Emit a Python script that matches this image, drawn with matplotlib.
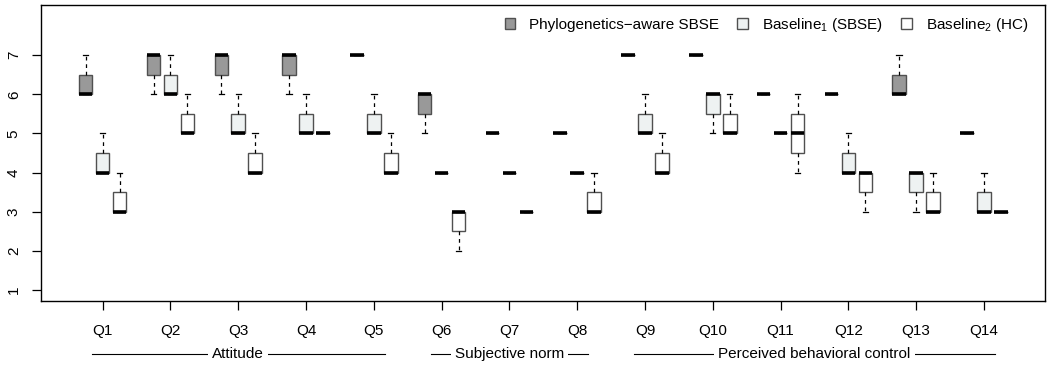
import numpy as np
import matplotlib
matplotlib.use("Agg")
import matplotlib.pyplot as plt
from matplotlib.patches import Patch

plt.rcParams['font.family'] = ['Liberation Sans', 'DejaVu Sans']
plt.rcParams['mathtext.default'] = 'regular'

questions = ['Q1', 'Q2', 'Q3', 'Q4', 'Q5', 'Q6', 'Q7',
             'Q8', 'Q9', 'Q10', 'Q11', 'Q12', 'Q13', 'Q14']
series = ['Phylogenetics\u2212aware SBSE', 'Baseline$_1$ (SBSE)', 'Baseline$_2$ (HC)']
colors = ['#999999', '#eef2f2', '#ffffff']

# per question: (whislo, q1, median, q3, whishi)
phylo = [(6, 6, 6, 6.5, 7), (6, 6.5, 7, 7, 7), (6, 6.5, 7, 7, 7), (6, 6.5, 7, 7, 7),
         (7, 7, 7, 7, 7), (5, 5.5, 6, 6, 6), (5, 5, 5, 5, 5), (5, 5, 5, 5, 5),
         (7, 7, 7, 7, 7), (7, 7, 7, 7, 7), (6, 6, 6, 6, 6), (6, 6, 6, 6, 6),
         (6, 6, 6, 6.5, 7), (5, 5, 5, 5, 5)]
base1 = [(4, 4, 4, 4.5, 5), (6, 6, 6, 6.5, 7), (5, 5, 5, 5.5, 6), (5, 5, 5, 5.5, 6),
         (5, 5, 5, 5.5, 6), (4, 4, 4, 4, 4), (4, 4, 4, 4, 4), (4, 4, 4, 4, 4),
         (5, 5, 5, 5.5, 6), (5, 5.5, 6, 6, 6), (5, 5, 5, 5, 5), (4, 4, 4, 4.5, 5),
         (3, 3.5, 4, 4, 4), (3, 3, 3, 3.5, 4)]
base2 = [(3, 3, 3, 3.5, 4), (5, 5, 5, 5.5, 6), (4, 4, 4, 4.5, 5), (5, 5, 5, 5, 5),
         (4, 4, 4, 4.5, 5), (2, 2.5, 3, 3, 3), (3, 3, 3, 3, 3), (3, 3, 3, 3.5, 4),
         (4, 4, 4, 4.5, 5), (5, 5, 5, 5.5, 6), (4, 4.5, 5, 5.5, 6), (3, 3.5, 4, 4, 4),
         (3, 3, 3, 3.5, 4), (3, 3, 3, 3, 3)]

groups = ['Attitude', 'Subjective norm', 'Perceived behavioral control']
group_span = [(0, 4), (5, 7), (8, 13)]

fig = plt.figure(figsize=(10.48, 3.66), dpi=100)
ax = fig.add_axes([0.0391, 0.1776, 0.958, 0.8087])

for k, (data, col) in enumerate(zip([phylo, base1, base2], colors)):
    stats = []
    for lo, q1, med, q3, hi in data:
        stats.append(dict(whislo=lo, q1=q1, med=med, q3=q3, whishi=hi, fliers=[]))
    pos = [4 * i + 1 + k for i in range(len(data))]
    ax.bxp(stats, positions=pos, widths=0.8, capwidths=0.32, patch_artist=True,
           showfliers=False,
           boxprops=dict(facecolor=col, edgecolor='#505050', linewidth=1.0),
           medianprops=dict(color='black', linewidth=2.6, solid_capstyle='butt'),
           whiskerprops=dict(color='black', linewidth=0.9, linestyle=(0, (3, 3))),
           capprops=dict(color='black', linewidth=0.9))

centers = [4 * i + 2 for i in range(len(questions))]
ax.set_xlim(-1.64, 57.6)
ax.set_ylim(0.72, 8.28)
ax.set_yticks(range(1, 8))
ax.set_xticks(centers)
ax.set_xticklabels(questions)
ax.tick_params(axis='both', direction='out', length=6.5, width=0.9, labelsize=11)
ax.tick_params(axis='x', pad=10)
ax.tick_params(axis='y', pad=8)
for lab in ax.get_yticklabels():
    lab.set_rotation(90)
    lab.set_va('center')
for sp in ax.spines.values():
    sp.set_linewidth(1.0)

# group labels under the question labels
trans = ax.get_xaxis_transform()
for name, (a, b) in zip(groups, group_span):
    x0 = centers[a] - 0.63
    x1 = centers[b] + 0.63
    ax.plot([x0, x1], [-0.18, -0.18], transform=trans, color='black',
            linewidth=0.8, clip_on=False)
    ax.text((centers[a] + centers[b]) / 2, -0.18, name, transform=trans,
            ha='center', va='center', fontsize=11,
            bbox=dict(facecolor='white', edgecolor='none', pad=3))

handles = [Patch(facecolor=c, edgecolor='#505050', linewidth=1.0) for c in colors]
ax.legend(handles, series, loc='upper right', ncol=3, frameon=False, fontsize=11,
          handlelength=0.7, handleheight=0.7, handletextpad=0.9,
          columnspacing=1.2, borderaxespad=0.3, bbox_to_anchor=(0.994, 1.0))

fig.savefig('out.png', dpi=100)
